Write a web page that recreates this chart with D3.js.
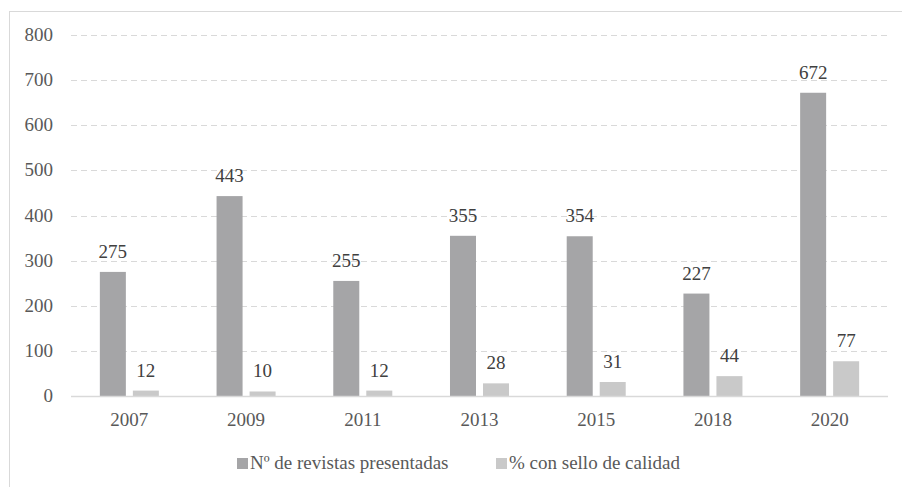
<!DOCTYPE html>
<html>
<head>
<meta charset="utf-8">
<script src="https://cdn.jsdelivr.net/npm/d3@7"></script>
</head>
<body style="margin:0">
<svg width="902" height="487" font-family="Times New Roman"></svg>
<script>
var years = ['2007', '2009', '2011', '2013', '2015', '2018', '2020']
var revistas = [275, 443, 255, 355, 354, 227, 672]
var sello = [12, 10, 12, 28, 31, 44, 77]
var seriesNames = ['Nº de revistas presentadas', '% con sello de calidad']
var yTicks = [0, 100, 200, 300, 400, 500, 600, 700, 800]
var colors = ['#a5a5a7', '#c9c9c9']

var svg = d3.select('svg')

// frame, partly cut off by the picture edge
svg.append('rect')
  .attr('x', 9.5).attr('y', 11.5)
  .attr('width', 960).attr('height', 560)
  .attr('fill', 'none')
  .attr('stroke', '#d9d9d9')

var xScale = d3.scaleBand()
  .domain(years)
  .range([71, 888])

var xInner = d3.scaleBand()
  .domain(seriesNames)
  .range([0, xScale.bandwidth()])
  .paddingInner(7 / 33)
  .paddingOuter(0.874)

var yScale = d3.scaleLinear()
  .domain([0, 800])
  .range([396, 35])

svg.selectAll('.grid')
  .data(yTicks.filter(function(d){return d > 0}))
  .enter()
  .append('line')
  .attr('x1', 71).attr('x2', 888)
  .attr('y1', function(d){return Math.round(yScale(d)) + 0.5})
  .attr('y2', function(d){return Math.round(yScale(d)) + 0.5})
  .attr('stroke', '#d9d9d9')
  .attr('stroke-dasharray', '6,4')

svg.selectAll('.ylab')
  .data(yTicks)
  .enter()
  .append('text')
  .attr('x', 53)
  .attr('y', function(d){return yScale(d) + 6})
  .attr('text-anchor', 'end')
  .attr('font-family', 'Times New Roman')
  .attr('font-size', '19px')
  .attr('fill', '#595959')
  .text(function(d){return d})

var rows = years.map(function(y, i){
  return {year: y, vals: [revistas[i], sello[i]]}
})

var groups = svg.selectAll('.grp')
  .data(rows)
  .enter()
  .append('g')
  .attr('transform', function(d){return 'translate(' + xScale(d.year) + ',0)'})

groups.selectAll('rect')
  .data(function(d){return d.vals.map(function(v, j){return {v: v, s: seriesNames[j], j: j}})})
  .enter()
  .append('rect')
  .attr('x', function(d){return xInner(d.s)})
  .attr('y', function(d){return yScale(d.v)})
  .attr('width', xInner.bandwidth())
  .attr('height', function(d){return yScale(0) - yScale(d.v)})
  .attr('fill', function(d){return colors[d.j]})

groups.selectAll('.val')
  .data(function(d){return d.vals.map(function(v, j){return {v: v, s: seriesNames[j]}})})
  .enter()
  .append('text')
  .attr('x', function(d){return xInner(d.s) + xInner.bandwidth() / 2})
  .attr('y', function(d){return yScale(d.v) - 14})
  .attr('text-anchor', 'middle')
  .attr('font-family', 'Times New Roman')
  .attr('font-size', '19px')
  .attr('fill', '#404040')
  .text(function(d){return d.v})

svg.append('line')
  .attr('x1', 71).attr('x2', 888)
  .attr('y1', yScale(0) + 0.5).attr('y2', yScale(0) + 0.5)
  .attr('stroke', '#d9d9d9')
  .attr('stroke-width', 1.5)

svg.selectAll('.xlab')
  .data(years)
  .enter()
  .append('text')
  .attr('x', function(d){return xScale(d) + xScale.bandwidth() / 2})
  .attr('y', 426)
  .attr('text-anchor', 'middle')
  .attr('font-family', 'Times New Roman')
  .attr('font-size', '19px')
  .attr('fill', '#595959')
  .text(function(d){return d})

var legendX = [237, 496]
seriesNames.forEach(function(name, i){
  svg.append('rect')
    .attr('x', legendX[i]).attr('y', 458)
    .attr('width', 11).attr('height', 11)
    .attr('fill', colors[i])
  svg.append('text')
    .attr('x', legendX[i] + 13)
    .attr('y', 469)
    .attr('font-family', 'Times New Roman')
    .attr('font-size', '19px')
    .attr('fill', '#595959')
    .text(name)
})
</script>
</body>
</html>
